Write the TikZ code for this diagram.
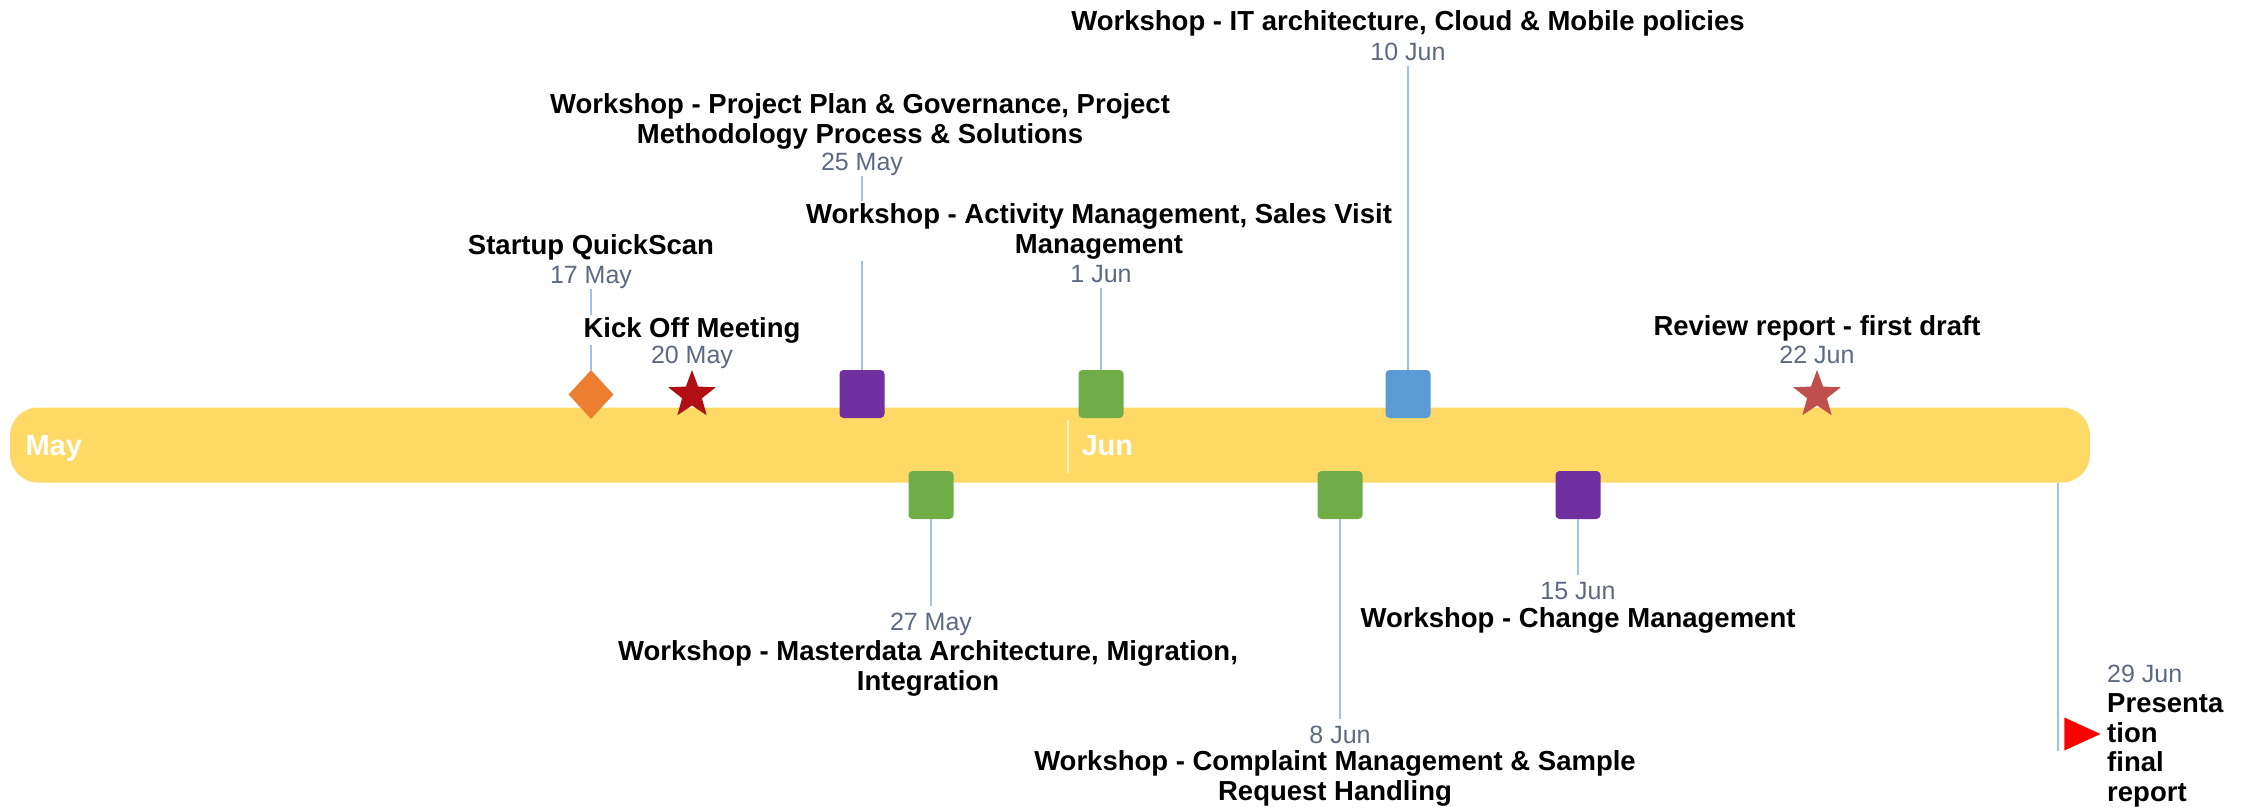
\documentclass[tikz,border=0pt]{standalone}
\usepackage{fontspec}
\setmainfont{Liberation Sans}
\usetikzlibrary{shapes.geometric}

\definecolor{BarFill}{HTML}{FFD966}
\definecolor{StemLine}{HTML}{9DC3E6}
\definecolor{DateText}{HTML}{5B6A82}
\definecolor{MarkOrange}{HTML}{ED7D31}
\definecolor{MarkDarkRed}{HTML}{B10F14}
\definecolor{MarkRed}{HTML}{C0504D}
\definecolor{MarkPurple}{HTML}{7030A0}
\definecolor{MarkGreen}{HTML}{70AD47}
\definecolor{MarkBlue}{HTML}{5B9BD5}
\definecolor{MarkFlag}{HTML}{FF0000}

\begin{document}
\begin{tikzpicture}[x=1pt, y=-1pt,
    stem/.style = {draw=StemLine, line width=2pt},
    datelabel/.style = {anchor=base, inner sep=0pt, text height=24pt, text depth=6pt,
        text=DateText, font=\fontsize{25}{29}\selectfont},
    eventlabel/.style = {anchor=base, fill=white, inner xsep=2pt, inner ysep=2.5pt,
        align=center, font=\fontsize{27.5}{29.5}\selectfont\bfseries},
    task/.style = {rectangle, rounded corners=4pt, minimum width=45pt,
        minimum height=48pt, inner sep=0pt, fill=#1},
    milestone/.style = {star, star points=5, star point ratio=2.4,
        minimum size=50pt, inner sep=0pt, fill=#1},
    month/.style = {anchor=base west, text=white, font=\fontsize{29}{32}\selectfont\bfseries}]

\useasboundingbox (0,0) rectangle (2254,808);

% time bar
\node[rectangle, rounded corners=28pt, fill=BarFill, minimum width=2080pt,
    minimum height=75pt, inner sep=0pt] (bar) at (1050,445) {};
\draw[BarFill!35!white, line width=1.5pt] (1068,420) -- (1068,473);
\node[month] (may) at (22,455) {May};
\node[month] (jun) at (1078,455) {Jun};

% markers
\node[diamond, minimum width=45pt, minimum height=49pt, inner sep=0pt, fill=MarkOrange] (qs) at (591,394.5) {};
\node[milestone=MarkDarkRed] (ko) at (692,395) {};
\node[task=MarkPurple] (pp) at (862,394) {};
\node[task=MarkGreen] (am) at (1101,394) {};
\node[task=MarkBlue] (it) at (1408,394) {};
\node[milestone=MarkRed] (rr) at (1817,395) {};
\node[task=MarkGreen] (md) at (931,495) {};
\node[task=MarkGreen] (cm) at (1340,495) {};
\node[task=MarkPurple] (ch) at (1578,495) {};
\node[isosceles triangle, isosceles triangle stretches, minimum width=33pt,
    minimum height=36pt, inner sep=0pt, fill=MarkFlag] (fp) at (2075,734) {};
\coordinate (fin) at (2058,751);

% dates
\node[datelabel] (qsdate) at (591,283) {17 May};
\node[datelabel] (kodate) at (692,363) {20 May};
\node[datelabel] (ppdate) at (862,170) {25 May};
\node[datelabel] (amdate) at (1101,282) {1 Jun};
\node[datelabel] (itdate) at (1408,60) {10 Jun};
\node[datelabel] (rrdate) at (1817,363) {22 Jun};
\node[datelabel] (mddate) at (931,630) {27 May};
\node[datelabel] (cmdate) at (1340,743) {8 Jun};
\node[datelabel] (chdate) at (1578,599) {15 Jun};
\node[datelabel, anchor=base west] (fpdate) at (2107,682) {29 Jun};

% stems
\draw[stem] (qsdate) -- (qs);
\draw[stem] (ppdate) -- (pp);
\draw[stem] (amdate) -- (am);
\draw[stem] (itdate) -- (it);
\draw[stem] (md) -- (mddate);
\draw[stem] (cm) -- (cmdate);
\draw[stem] (ch) -- (chdate);
\draw[stem] (bar.south -| fin) -- (fin);

% labels (base = last line)
\node[eventlabel] (qslabel) at (591,254) {Startup QuickScan};
\node[eventlabel] (kolabel) at (692,337) {Kick Off Meeting};
\node[eventlabel] (pplabel) at (860,143) {Workshop - Project Plan \& Governance, Project\\Methodology Process \& Solutions};
\node[eventlabel] (amlabel) at (1099,253) {Workshop - Activity Management, Sales Visit\\Management};
\node[eventlabel] (itlabel) at (1408,31) {Workshop - IT architecture, Cloud \& Mobile policies};
\node[eventlabel] (rrlabel) at (1817,335) {Review report - first draft};
\node[eventlabel] (mdlabel) at (928,690) {Workshop - Masterdata Architecture, Migration,\\Integration};
\node[eventlabel] (cmlabel) at (1335,800) {Workshop - Complaint Management \& Sample\\Request Handling};
\node[eventlabel] (chlabel) at (1578,627) {Workshop - Change Management};
\node[eventlabel, anchor=base west, align=left, inner xsep=0pt] (fplabel) at (2107,801) {Presenta\\tion\\final\\report};

\end{tikzpicture}
\end{document}
